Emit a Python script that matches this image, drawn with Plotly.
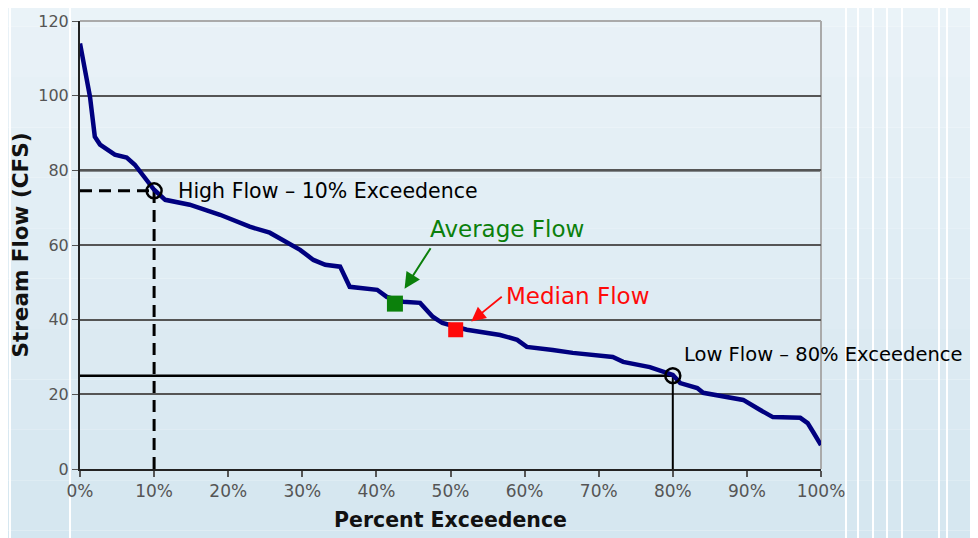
import plotly.graph_objects as go

# ---- data ----
pct_exceed = [0, 0.4, 1.35, 2.0, 2.7, 4.7, 6.3, 7.4, 8.8, 10, 11.5, 14.8, 18.9, 22.9, 25.6,
              29.7, 31.5, 33.1, 35.1, 36.4, 40.1, 41.4, 43.6, 45.9, 47.6, 48.9, 52.2, 56.7,
              59.0, 60.3, 63.8, 66.5, 71.9, 73.3, 76.9, 80.0, 81.0, 83.3, 84.1, 85.9, 89.5,
              91.8, 93.5, 97.2, 98.2, 99.0, 100]
flow_cfs = [114, 109.7, 99.7, 89, 86.9, 84.2, 83.4, 81.5, 78, 74.8, 72.1, 70.8, 68.1, 64.9, 63.3,
            58.7, 56, 54.7, 54.2, 48.8, 48, 46.1, 44.8, 44.5, 40.8, 39.1, 37.3, 35.9,
            34.6, 32.7, 31.9, 31.1, 30, 28.7, 27.3, 25.2, 23, 21.7, 20.4, 19.8, 18.5,
            15.8, 13.9, 13.7, 12.3, 9.7, 6.4]

high_flow = (10, 74.5)
low_flow = (80, 25)
average_flow = (42.5, 44.3)
median_flow = (50.7, 37.3)

x_ticks = [0, 10, 20, 30, 40, 50, 60, 70, 80, 90, 100]
x_tick_labels = [f"{v}%" for v in x_ticks]
y_ticks = [0, 20, 40, 60, 80, 100, 120]

FONT = "DejaVu Sans, Liberation Sans, Arial, sans-serif"

fig = go.Figure()

# dashed guides for high flow
fig.add_trace(go.Scatter(x=[0, high_flow[0]], y=[high_flow[1], high_flow[1]], mode="lines",
                         line=dict(color="black", width=3, dash="12px,7px"), hoverinfo="skip"))
fig.add_trace(go.Scatter(x=[high_flow[0], high_flow[0]], y=[0, high_flow[1]], mode="lines",
                         line=dict(color="black", width=3, dash="12px,7px"), hoverinfo="skip"))
# solid guides for low flow
fig.add_trace(go.Scatter(x=[0, low_flow[0]], y=[low_flow[1], low_flow[1]], mode="lines",
                         line=dict(color="black", width=2.5), hoverinfo="skip"))
fig.add_trace(go.Scatter(x=[low_flow[0], low_flow[0]], y=[0, low_flow[1]], mode="lines",
                         line=dict(color="black", width=2), hoverinfo="skip"))

# flow duration curve
fig.add_trace(go.Scatter(x=pct_exceed, y=flow_cfs, mode="lines",
                         line=dict(color="#00007f", width=4.5, shape="linear")))

# circles
fig.add_trace(go.Scatter(x=[high_flow[0], low_flow[0]], y=[high_flow[1], low_flow[1]],
                         mode="markers",
                         marker=dict(symbol="circle-open", size=15, color="black",
                                     line=dict(width=2.5, color="black"))))
# squares
fig.add_trace(go.Scatter(x=[average_flow[0]], y=[average_flow[1]], mode="markers",
                         marker=dict(symbol="square", size=16, color="#0b800b")))
fig.add_trace(go.Scatter(x=[median_flow[0]], y=[median_flow[1]], mode="markers",
                         marker=dict(symbol="square", size=15, color="#ff0a0a")))

shapes = []
# background gradient
top = (234, 243, 248)
bot = (212, 230, 240)
n = 12
for i in range(n):
    t = i / (n - 1)
    c = tuple(int(top[k] + (bot[k] - top[k]) * t) for k in range(3))
    shapes.append(dict(type="rect", xref="paper", yref="paper",
                       x0=-0.15, x1=1.3, y0=1.1 - (i + 1) * 1.35 / n, y1=1.1 - i * 1.35 / n,
                       fillcolor=f"rgb{c}", line=dict(width=0), layer="below"))
# faint white stripes of the background picture
for px in [10, 70, 846, 858, 873, 887, 902, 939, 947]:
    xp = (px - 80) / (821 - 80)
    shapes.append(dict(type="line", xref="paper", yref="paper", x0=xp, x1=xp,
                       y0=-0.2, y1=1.1, line=dict(color="white", width=2), layer="below"))
# thick 80 line and light frame
shapes.append(dict(type="line", xref="paper", yref="y", x0=0, x1=1, y0=80, y1=80,
                   line=dict(color="#222", width=2.5), layer="between"))
shapes.append(dict(type="line", xref="paper", yref="paper", x0=0, x1=1, y0=1, y1=1,
                   line=dict(color="#aaaaaa", width=2), layer="between"))
shapes.append(dict(type="line", xref="paper", yref="paper", x0=1, x1=1, y0=0, y1=1,
                   line=dict(color="#aaaaaa", width=2), layer="between"))

annotations = [
    dict(x=13.0, y=74.5, text="High Flow – 10% Exceedence", showarrow=False, xanchor="left",
         yanchor="middle", font=dict(family=FONT, size=20.5, color="black")),
    dict(x=81.3, y=30.6, text="Low Flow – 80% Exceedence", showarrow=False, xanchor="left",
         yanchor="middle", font=dict(family=FONT, size=19.5, color="black")),
    dict(x=47.0, y=64.3, text="Average Flow", showarrow=False, xanchor="left",
         yanchor="middle", font=dict(family=FONT, size=23, color="#0b800b")),
    dict(x=57.2, y=46.4, text="Median Flow", showarrow=False, xanchor="left",
         yanchor="middle", font=dict(family=FONT, size=23, color="#ff0a0a")),
    # arrows
    dict(x=43.8, y=48.3, ax=27, ay=-42, text="", showarrow=True, arrowhead=2,
         arrowsize=1.6, arrowwidth=2, arrowcolor="#0b800b"),
    dict(x=52.8, y=39.5, ax=32, ay=-26, text="", showarrow=True, arrowhead=2,
         arrowsize=1.6, arrowwidth=1.8, arrowcolor="#ff0a0a"),
]

fig.update_layout(
    width=970, height=530,
    margin=dict(l=72, r=157, t=13, b=69, autoexpand=False),
    paper_bgcolor="rgba(0,0,0,0)",
    plot_bgcolor="rgba(0,0,0,0)",
    showlegend=False,
    shapes=shapes,
    annotations=annotations,
    font=dict(family=FONT),
    xaxis=dict(range=[0, 100], tickvals=x_ticks, ticktext=x_tick_labels,
               showgrid=False, zeroline=False, showline=True, linecolor="#222", linewidth=2,
               ticks="outside", ticklen=6, tickcolor="#555", tickwidth=2,
               tickfont=dict(family=FONT, size=17, color="#555"),
               title=dict(text="<b>Percent Exceedence</b>", standoff=12,
                          font=dict(family=FONT, size=20.5, color="#111"))),
    yaxis=dict(range=[0, 120], tickvals=y_ticks, showgrid=True, gridcolor="#555", gridwidth=2,
               zeroline=False, showline=True, linecolor="#222", linewidth=2,
               ticks="outside", ticklen=6, tickcolor="#555",
               tickfont=dict(family=FONT, size=16, color="#555"),
               title=dict(text="<b>Stream Flow (CFS)</b>", standoff=9,
                          font=dict(family=FONT, size=21.5, color="#111"))),
)

fig.write_html("out.html")
